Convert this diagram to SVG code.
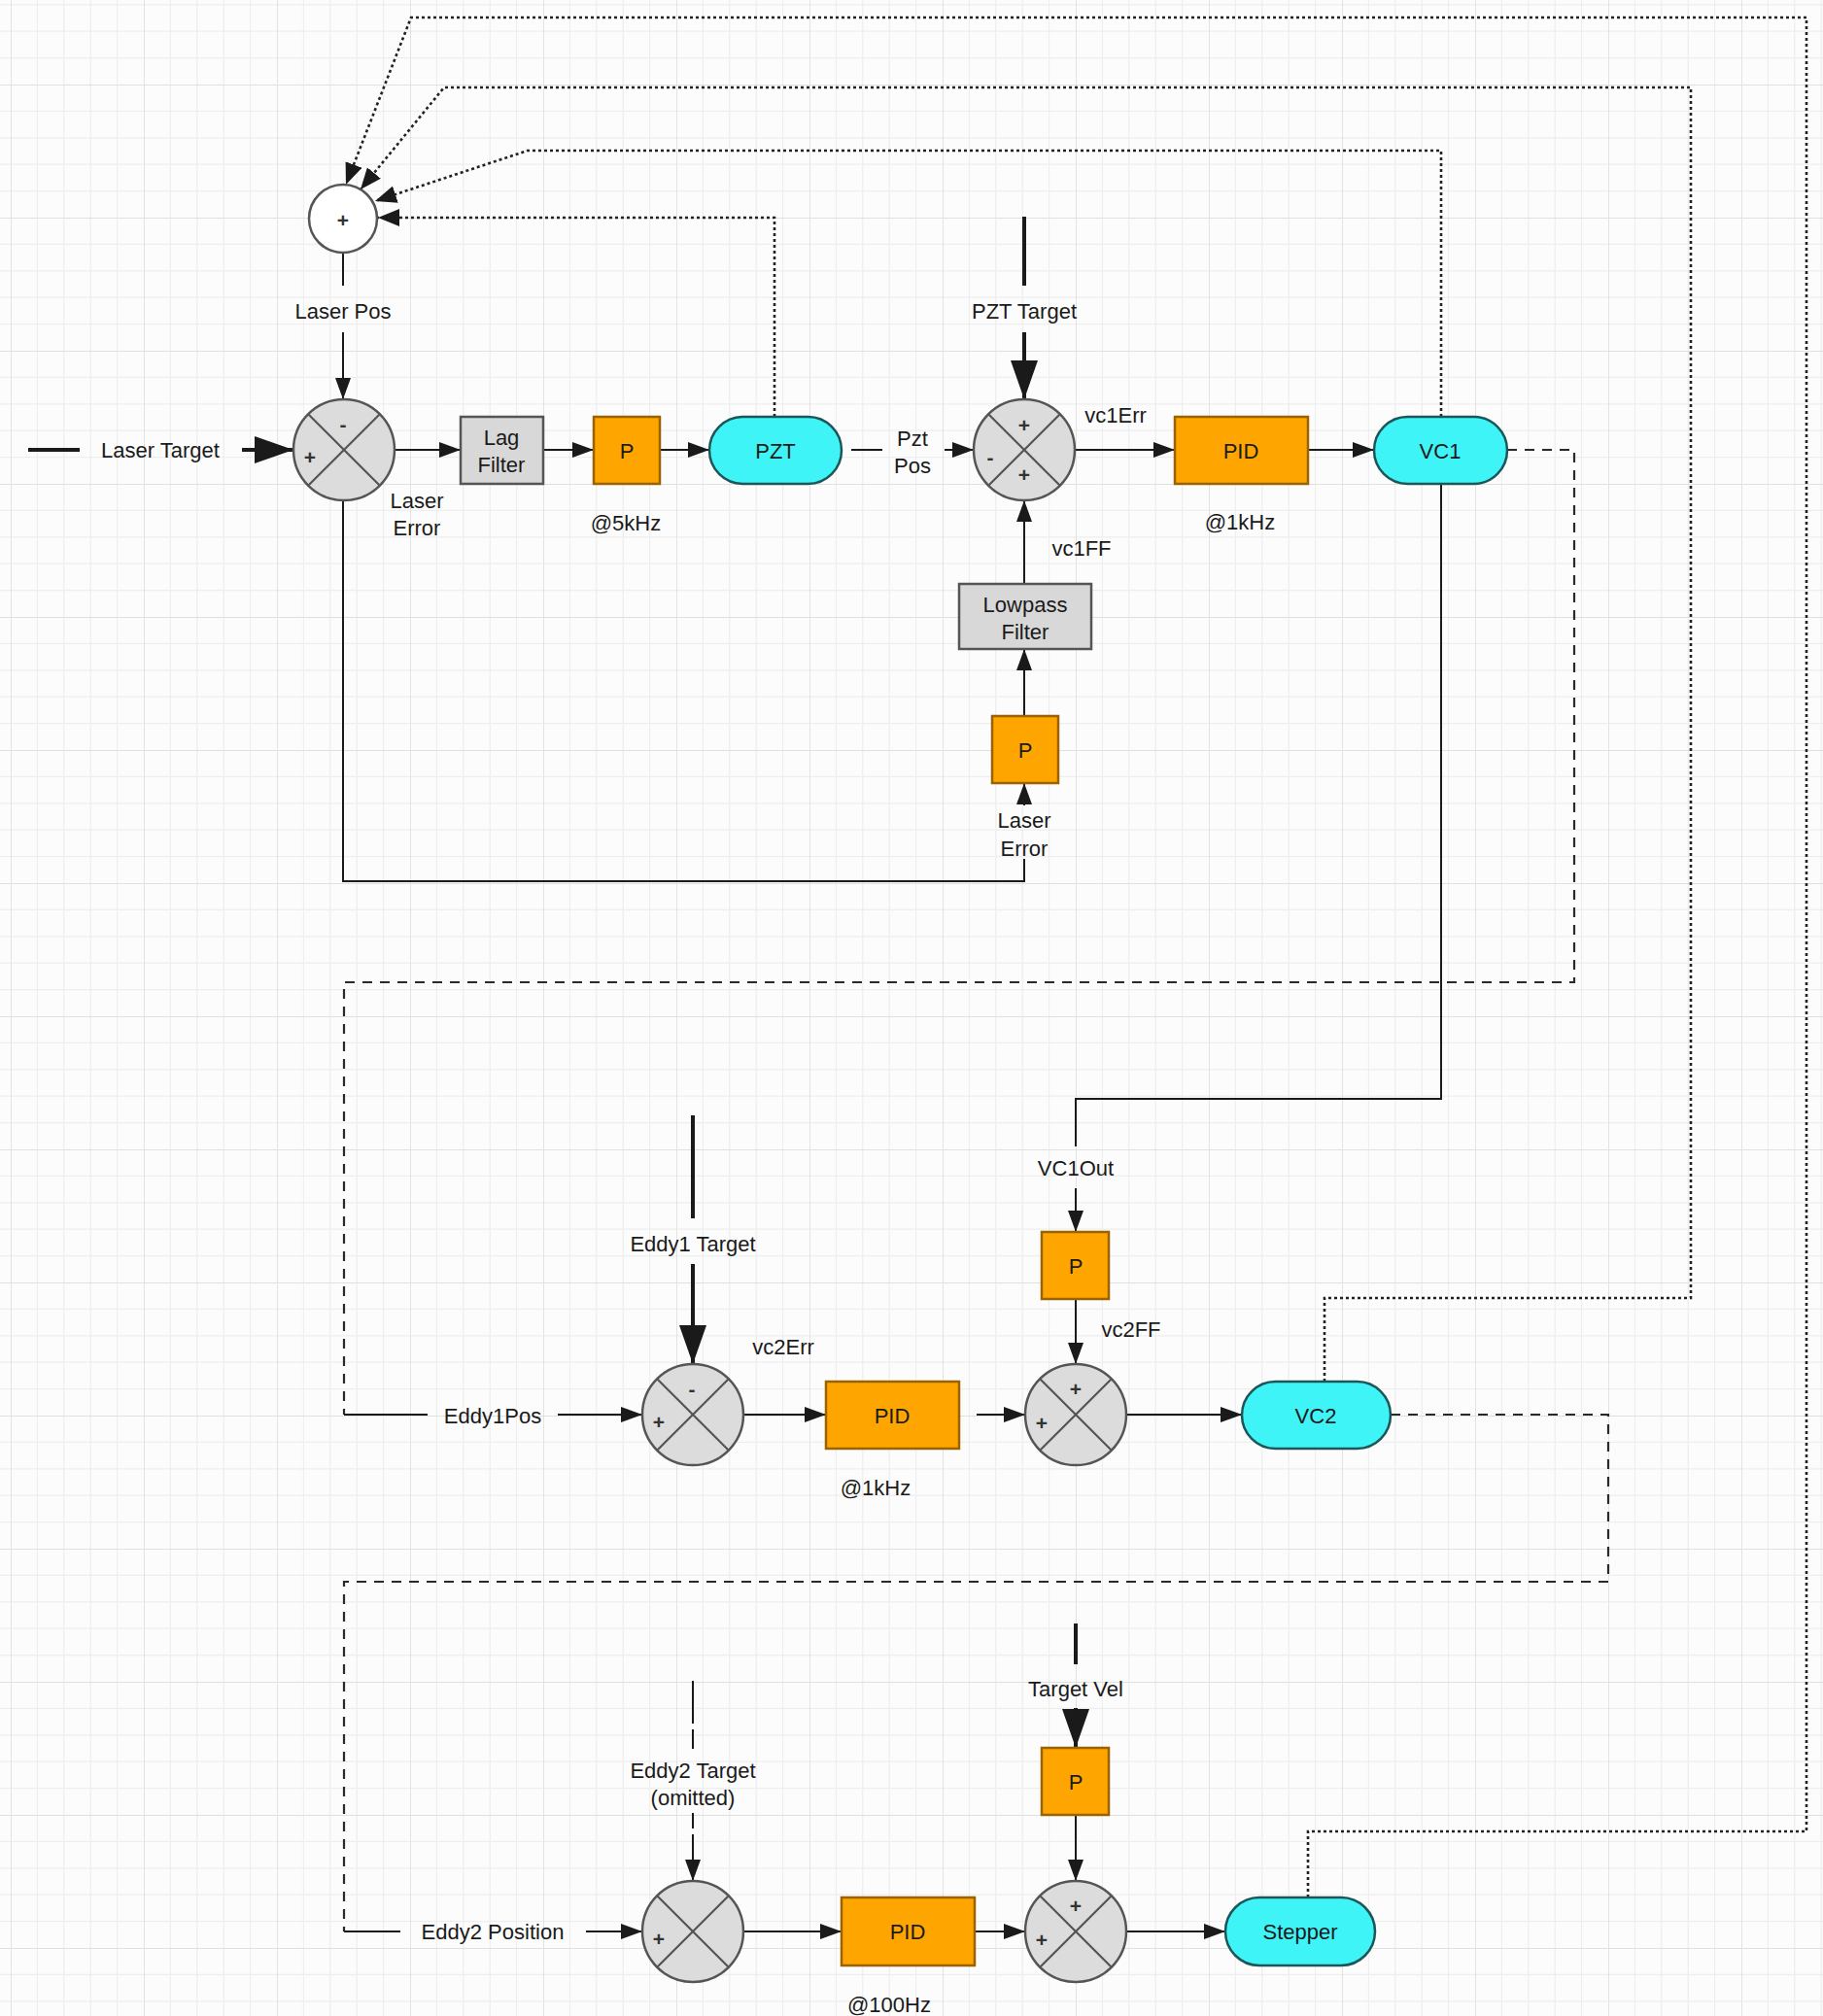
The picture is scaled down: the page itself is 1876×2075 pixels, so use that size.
<svg xmlns="http://www.w3.org/2000/svg" width="1876" height="2075" viewBox="0 0 1876 2075">
<style>
text{font-family:"Liberation Sans",Arial,sans-serif;font-size:22px;fill:#1a1a1a;text-anchor:middle;dominant-baseline:central}
.sign{font-size:21px;font-weight:bold;fill:#333}
.ln{fill:none;stroke:#1a1a1a;stroke-width:2}
.thick{fill:none;stroke:#1a1a1a;stroke-width:4}
.dot{fill:none;stroke:#222;stroke-width:2.6;stroke-dasharray:3 3}
.dash{fill:none;stroke:#2a2a2a;stroke-width:2.2;stroke-dasharray:10 8}
.sum{fill:#dcdcdc;stroke:#555;stroke-width:2.5}
.x{stroke:#555;stroke-width:2.2}
.org{fill:#ffa500;stroke:#9a6200;stroke-width:2.5}
.gry{fill:#d8d8d8;stroke:#555;stroke-width:2.5}
.cyn{fill:#3ff4f6;stroke:#1d5658;stroke-width:2.5}
</style>
<defs>
<pattern id="grid" x="11" y="87" width="137" height="137" patternUnits="userSpaceOnUse">
<path d="M27.4 0V137M54.8 0V137M82.2 0V137M109.6 0V137M0 27.4H137M0 54.8H137M0 82.2H137M0 109.6H137" stroke="#eeeeee" stroke-width="1.2" fill="none"/>
<path d="M0 0V137M0 0H137" stroke="#e0e0e0" stroke-width="1.8" fill="none"/>
</pattern>
<marker id="a" markerUnits="userSpaceOnUse" markerWidth="24" markerHeight="18" refX="22" refY="8" orient="auto"><path d="M0 0L22 8L0 16z" fill="#1a1a1a"/></marker>
<marker id="ab" markerUnits="userSpaceOnUse" markerWidth="42" markerHeight="30" refX="40" refY="14" orient="auto"><path d="M0 0L40 14L0 28z" fill="#1a1a1a"/></marker>
<marker id="ad" markerUnits="userSpaceOnUse" markerWidth="24" markerHeight="20" refX="22" refY="9" orient="auto"><path d="M0 0L22 9L0 18z" fill="#1a1a1a"/></marker>
</defs>
<rect width="1876" height="2075" fill="#fcfcfc"/>
<rect width="1876" height="2075" fill="url(#grid)"/>

<g id="connectors">
<path class="dot" d="M1346 1953V1885H1859V18H423L356 190" marker-end="url(#ad)"/>
<path class="dot" d="M1363 1422V1336H1740V90H457L371 195" marker-end="url(#ad)"/>
<path class="dot" d="M1483 429V155H543L386 207" marker-end="url(#ad)"/>
<path class="dot" d="M797 429V224H389" marker-end="url(#ad)"/>
<path class="dash" d="M1551 463H1620V1011H354V1456"/>
<path class="dash" d="M1431 1456H1655V1628H354V1988"/>
<path class="thick" d="M29 463H82"/>
<path class="thick" d="M249 463H302" marker-end="url(#ab)"/>
<path class="ln" d="M353 260V294"/>
<path class="ln" d="M353 342V411" marker-end="url(#a)"/>
<path class="ln" d="M406 463H474" marker-end="url(#a)"/>
<path class="ln" d="M559 463H611" marker-end="url(#a)"/>
<path class="ln" d="M679 463H730" marker-end="url(#a)"/>
<path class="ln" d="M876 463H908"/>
<path class="ln" d="M972 463H1002" marker-end="url(#a)"/>
<path class="thick" d="M1054 223V294"/>
<path class="thick" d="M1054 342V411" marker-end="url(#ab)"/>
<path class="ln" d="M1106 463H1209" marker-end="url(#a)"/>
<path class="ln" d="M1346 463H1414" marker-end="url(#a)"/>
<path class="ln" d="M1054 601V515" marker-end="url(#a)"/>
<path class="ln" d="M1054 737V668" marker-end="url(#a)"/>
<path class="ln" d="M353 515V907H1054V884"/>
<path class="ln" d="M1054 829V806" marker-end="url(#a)"/>
<path class="ln" d="M1483 498V1131H1107V1180"/>
<path class="ln" d="M1107 1223V1268" marker-end="url(#a)"/>
<path class="ln" d="M1107 1337V1404" marker-end="url(#a)"/>
<path class="thick" d="M713 1148V1254"/>
<path class="thick" d="M713 1301V1404" marker-end="url(#ab)"/>
<path class="ln" d="M354 1456H440"/>
<path class="ln" d="M574 1456H661" marker-end="url(#a)"/>
<path class="ln" d="M765 1456H850" marker-end="url(#a)"/>
<path class="ln" d="M1005 1456H1055" marker-end="url(#a)"/>
<path class="ln" d="M1159 1456H1278" marker-end="url(#a)"/>
<path class="ln" d="M713 1730V1800" stroke-dasharray="44 6"/>
<path class="ln" d="M713 1866V1936" stroke-dasharray="16 6 100" marker-end="url(#a)"/>
<path class="thick" d="M1107 1671V1713"/>
<path class="thick" d="M1107 1758V1799" marker-end="url(#ab)"/>
<path class="ln" d="M1107 1868V1936" marker-end="url(#a)"/>
<path class="ln" d="M354 1988H412"/>
<path class="ln" d="M603 1988H661" marker-end="url(#a)"/>
<path class="ln" d="M765 1988H866" marker-end="url(#a)"/>
<path class="ln" d="M1003 1988H1055" marker-end="url(#a)"/>
<path class="ln" d="M1159 1988H1261" marker-end="url(#a)"/>
</g>

<g id="labels">
<text x="165" y="463">Laser Target</text>
<text x="353" y="320">Laser Pos</text>
<text x="429" y="515">Laser</text>
<text x="429" y="543">Error</text>
<text x="644" y="538">@5kHz</text>
<text x="939" y="451">Pzt</text>
<text x="939" y="479">Pos</text>
<text x="1054" y="320">PZT Target</text>
<text x="1148" y="427">vc1Err</text>
<text x="1276" y="537">@1kHz</text>
<text x="1113" y="564">vc1FF</text>
<text x="1054" y="844">Laser</text>
<text x="1054" y="873">Error</text>
<text x="1107" y="1202">VC1Out</text>
<text x="1164" y="1368">vc2FF</text>
<text x="713" y="1280">Eddy1 Target</text>
<text x="806" y="1386">vc2Err</text>
<text x="507" y="1457">Eddy1Pos</text>
<text x="901" y="1531">@1kHz</text>
<text x="1107" y="1738">Target Vel</text>
<text x="713" y="1822">Eddy2 Target</text>
<text x="713" y="1850">(omitted)</text>
<text x="507" y="1988">Eddy2 Position</text>
<text x="915" y="2063">@100Hz</text>
</g>

<g id="sumLaserPos"><circle cx="353" cy="225" r="35" fill="#fff" stroke="#555" stroke-width="2.5"/><text class="sign" x="353" y="226">+</text></g>

<g id="sum1"><circle class="sum" cx="354" cy="463" r="52"/><path class="x" d="M317.2 426.2L390.8 499.8M390.8 426.2L317.2 499.8"/><text class="sign" x="353" y="436">-</text><text class="sign" x="319" y="470">+</text></g>
<g id="lagFilter"><rect class="gry" x="474" y="429" width="85" height="69"/><text x="516" y="450">Lag</text><text x="516" y="478">Filter</text></g>
<g id="p1"><rect class="org" x="611" y="429" width="68" height="69"/><text x="645" y="464">P</text></g>
<g id="pzt"><rect class="cyn" x="730" y="429" width="136" height="69" rx="34.5"/><text x="798" y="464">PZT</text></g>

<g id="sum2"><circle class="sum" cx="1054" cy="463" r="52"/><path class="x" d="M1017.2 426.2L1090.8 499.8M1090.8 426.2L1017.2 499.8"/><text class="sign" x="1054" y="437">+</text><text class="sign" x="1019" y="470">-</text><text class="sign" x="1054" y="488">+</text></g>
<g id="pid1"><rect class="org" x="1209" y="429" width="137" height="69"/><text x="1277" y="464">PID</text></g>
<g id="vc1"><rect class="cyn" x="1414" y="429" width="137" height="69" rx="34.5"/><text x="1482" y="464">VC1</text></g>
<g id="lowpass"><rect class="gry" x="987" y="601" width="136" height="67"/><text x="1055" y="622">Lowpass</text><text x="1055" y="650">Filter</text></g>
<g id="p2"><rect class="org" x="1021" y="737" width="68" height="69"/><text x="1055" y="772">P</text></g>

<g id="sum3"><circle class="sum" cx="713" cy="1456" r="52"/><path class="x" d="M676.2 1419.2L749.8 1492.8M749.8 1419.2L676.2 1492.8"/><text class="sign" x="712" y="1429">-</text><text class="sign" x="678" y="1463">+</text></g>
<g id="pid2"><rect class="org" x="850" y="1422" width="137" height="69"/><text x="918" y="1457">PID</text></g>
<g id="p3"><rect class="org" x="1072" y="1268" width="69" height="69"/><text x="1107" y="1303">P</text></g>
<g id="sum4"><circle class="sum" cx="1107" cy="1456" r="52"/><path class="x" d="M1070.2 1419.2L1143.8 1492.8M1143.8 1419.2L1070.2 1492.8"/><text class="sign" x="1107" y="1429">+</text><text class="sign" x="1072" y="1464">+</text></g>
<g id="vc2"><rect class="cyn" x="1278" y="1422" width="153" height="69" rx="34.5"/><text x="1354" y="1457">VC2</text></g>

<g id="sum5"><circle class="sum" cx="713" cy="1988" r="52"/><path class="x" d="M676.2 1951.2L749.8 2024.8M749.8 1951.2L676.2 2024.8"/><text class="sign" x="678" y="1995">+</text></g>
<g id="pid3"><rect class="org" x="866" y="1953" width="137" height="70"/><text x="934" y="1988">PID</text></g>
<g id="p4"><rect class="org" x="1072" y="1799" width="69" height="69"/><text x="1107" y="1834">P</text></g>
<g id="sum6"><circle class="sum" cx="1107" cy="1988" r="52"/><path class="x" d="M1070.2 1951.2L1143.8 2024.8M1143.8 1951.2L1070.2 2024.8"/><text class="sign" x="1107" y="1961">+</text><text class="sign" x="1072" y="1996">+</text></g>
<g id="stepper"><rect class="cyn" x="1261" y="1953" width="154" height="70" rx="35"/><text x="1338" y="1988">Stepper</text></g>
</svg>
